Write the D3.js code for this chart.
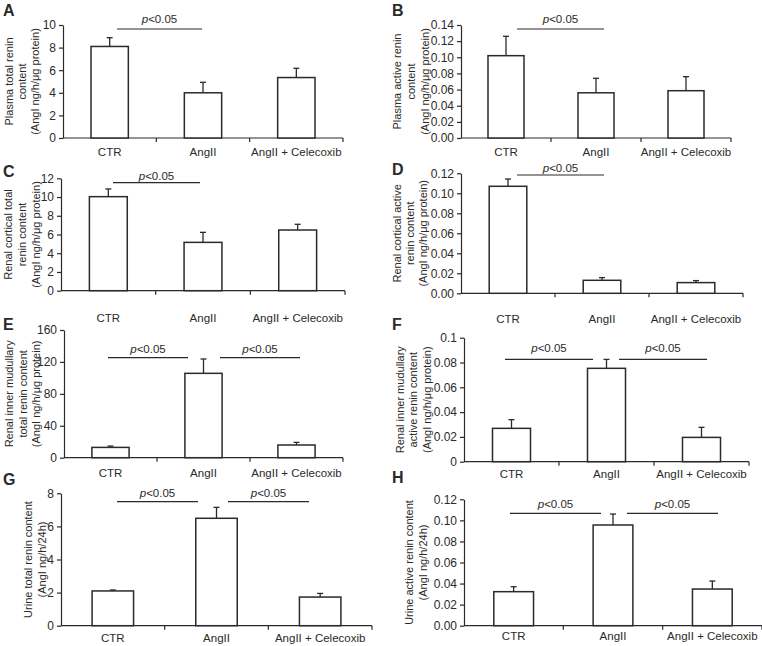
<!DOCTYPE html>
<html>
<head>
<meta charset="utf-8">
<script src="https://cdn.jsdelivr.net/npm/d3@7"></script>
<style>
  html, body { margin: 0; padding: 0; background: #fff; }
  svg { display: block; }
  text { font-family: "Liberation Sans", Arial, sans-serif; fill: #2a2a2a; }
</style>
</head>
<body>
<svg id="chart" width="762" height="646"></svg>
<script>
// ---------------- DATA ----------------
const categories = ["CTR", "AngII", "AngII + Celecoxib"];

// A: plasma total renin content
const plasmaTotalMean = [8.1, 4.0, 5.35];
const plasmaTotalSem  = [0.78, 0.93, 0.82];
const plasmaTotalTicks = [0, 2, 4, 6, 8, 10];

// B: plasma active renin content
const plasmaActiveMean = [0.102, 0.056, 0.0586];
const plasmaActiveSem  = [0.024, 0.018, 0.0174];
const plasmaActiveTicks = [0, 0.02, 0.04, 0.06, 0.08, 0.10, 0.12, 0.14];

// C: renal cortical total renin content
const corticalTotalMean = [10.04, 5.16, 6.48];
const corticalTotalSem  = [0.82, 1.07, 0.61];
const corticalTotalTicks = [0, 2, 4, 6, 8, 10, 12];

// D: renal cortical active renin content
const corticalActiveMean = [0.107, 0.013, 0.0107];
const corticalActiveSem  = [0.0073, 0.0027, 0.002];
const corticalActiveTicks = [0, 0.02, 0.04, 0.06, 0.08, 0.10, 0.12];

// E: renal inner medullary total renin content
const medullaryTotalMean = [12.9, 105.7, 15.9];
const medullaryTotalSem  = [1.7, 18.0, 3.3];
const medullaryTotalTicks = [0, 40, 80, 120, 160];

// F: renal inner medullary active renin content
const medullaryActiveMean = [0.0269, 0.0753, 0.0196];
const medullaryActiveSem  = [0.007, 0.0072, 0.0081];
const medullaryActiveTicks = [0, 0.02, 0.04, 0.06, 0.08, 0.1];

// G: urine total renin content
const urineTotalMean = [2.10, 6.49, 1.73];
const urineTotalSem  = [0.06, 0.66, 0.22];
const urineTotalTicks = [0, 2, 4, 6, 8];

// H: urine active renin content
const urineActiveMean = [0.0323, 0.0956, 0.0348];
const urineActiveSem  = [0.0047, 0.0104, 0.0076];
const urineActiveTicks = [0, 0.02, 0.04, 0.06, 0.08, 0.10, 0.12];

const sigText = "<0.05";

// ---------------- LAYOUT ----------------
const f2 = d3.format(".2f");
const fInt = d3.format("d");
const fShort = v => (v === 0 ? "0" : d3.format("~g")(v));

const panels = [
  { letter: "A", mean: plasmaTotalMean, sem: plasmaTotalSem, ticks: plasmaTotalTicks, fmt: fInt,
    label: ["Plasma total renin", "content", "(AngI ng/h/\u03bcg protein)"],
    x0: 63, x1: 343, yTop: 25, yBot: 138, letterX: 3, letterY: 16, labX: [9, 22, 35], catY: 155.5,
    sig: [{ a: 117, b: 202, y: 29, ty: 22.5 }] },
  { letter: "B", mean: plasmaActiveMean, sem: plasmaActiveSem, ticks: plasmaActiveTicks, fmt: f2,
    label: ["Plasma active renin", "content", "(AngI ng/h/\u03bcg protein)"],
    x0: 461, x1: 731, yTop: 25, yBot: 138, letterX: 392, letterY: 16, labX: [397, 411, 425], catY: 155.5,
    sig: [{ a: 517, b: 604, y: 29, ty: 22.5 }] },
  { letter: "C", mean: corticalTotalMean, sem: corticalTotalSem, ticks: corticalTotalTicks, fmt: fInt,
    label: ["Renal  cortical total", "renin content", "(AngI ng/h/\u03bcg protein)"],
    x0: 61, x1: 345, yTop: 178.3, yBot: 290.7, letterX: 3, letterY: 177, labX: [8, 22, 36], catY: 321.7,
    sig: [{ a: 113, b: 200, y: 182.7, ty: 180 }] },
  { letter: "D", mean: corticalActiveMean, sem: corticalActiveSem, ticks: corticalActiveTicks, fmt: f2,
    label: ["Renal  cortical active", "renin content", "(AngI ng/h/\u03bcg protein)"],
    x0: 461, x1: 743, yTop: 173.3, yBot: 293.3, letterX: 392, letterY: 175, labX: [397, 410, 423], catY: 323.3,
    sig: [{ a: 517, b: 604, y: 175, ty: 171.5 }] },
  { letter: "E", mean: medullaryTotalMean, sem: medullaryTotalSem, ticks: medullaryTotalTicks, fmt: fInt,
    label: ["Renal inner mudullary", "total renin content", "(AngI ng/h/\u03bcg protein)"],
    x0: 64, x1: 343, yTop: 330, yBot: 457.7, letterX: 3, letterY: 330, labX: [9, 23, 36], catY: 476.7,
    sig: [{ a: 108, b: 188, y: 357.7, ty: 353 }, { a: 220, b: 300, y: 357.7, ty: 353 }] },
  { letter: "F", mean: medullaryActiveMean, sem: medullaryActiveSem, ticks: medullaryActiveTicks, fmt: fShort,
    label: ["Renal inner mudullary", "active renin content", "(AngI ng/h/\u03bcg protein)"],
    x0: 464, x1: 749, yTop: 337.7, yBot: 461.7, letterX: 392, letterY: 330, labX: [400, 413, 427], catY: 478,
    sig: [{ a: 505, b: 593, y: 359.3, ty: 352 }, { a: 619, b: 707, y: 359.3, ty: 352 }] },
  { letter: "G", mean: urineTotalMean, sem: urineTotalSem, ticks: urineTotalTicks, fmt: fInt,
    label: ["Urine total renin content", "(AngI ng/h/24h)"],
    x0: 61, x1: 372, yTop: 493.3, yBot: 625.7, letterX: 3, letterY: 485, labX: [28, 42], catY: 641.7,
    sig: [{ a: 117, b: 198, y: 501.7, ty: 496.5 }, { a: 228, b: 309, y: 501.7, ty: 496.5 }] },
  { letter: "H", mean: urineActiveMean, sem: urineActiveSem, ticks: urineActiveTicks, fmt: f2,
    label: ["Urine active renin content", "(AngI ng/h/24h)"],
    x0: 464, x1: 762, yTop: 499.3, yBot: 625.7, letterX: 392, letterY: 483, labX: [409, 423], catY: 640,
    sig: [{ a: 510, b: 601, y: 513.3, ty: 507.5 }, { a: 627, b: 718, y: 513.3, ty: 507.5 }] }
];

const svg = d3.select("#chart");
const ink = "#2a2a2a";

panels.forEach(p => {
  const g = svg.append("g");
  const x = d3.scaleBand().domain(categories).range([p.x0, p.x1]).padding(0);
  const y = d3.scaleLinear().domain([0, d3.max(p.ticks)]).range([p.yBot, p.yTop]);

  // y axis
  const ya = g.append("g")
    .attr("transform", `translate(${p.x0},0)`)
    .call(d3.axisLeft(y).tickValues(p.ticks).tickFormat(p.fmt).tickSize(4).tickSizeOuter(0).tickPadding(3));
  ya.select(".domain").attr("stroke", ink).attr("stroke-width", 1.2);
  ya.selectAll(".tick line").attr("stroke", ink).attr("stroke-width", 1.2);
  ya.selectAll(".tick text").attr("font-size", 12).attr("font-family", "Liberation Sans, Arial, sans-serif").attr("fill", ink);

  // x axis line
  g.append("line")
    .attr("x1", p.x0).attr("x2", p.x1).attr("y1", p.yBot).attr("y2", p.yBot)
    .attr("stroke", ink).attr("stroke-width", 1.2);
  const bounds = categories.map(c => x(c)).concat([x.range()[1]]).slice(1);
  g.selectAll(".xt").data(bounds).join("line")
    .attr("x1", d => d).attr("x2", d => d).attr("y1", p.yBot).attr("y2", p.yBot + 4)
    .attr("stroke", ink).attr("stroke-width", 1.2);

  // category labels
  g.selectAll(".cat").data(categories).join("text")
    .attr("x", c => x(c) + x.bandwidth() / 2)
    .attr("y", p.catY)
    .attr("text-anchor", "middle")
    .attr("font-size", 11.5)
    .text(c => c);

  const bw = x.bandwidth() * 0.4;
  const rows = categories.map((c, i) => ({ c, m: p.mean[i], s: p.sem[i] }));

  // error bars
  g.selectAll(".err").data(rows).join("line")
    .attr("x1", d => x(d.c) + x.bandwidth() / 2).attr("x2", d => x(d.c) + x.bandwidth() / 2)
    .attr("y1", d => y(d.m)).attr("y2", d => y(d.m + d.s))
    .attr("stroke", ink).attr("stroke-width", 1.3);
  g.selectAll(".cap").data(rows).join("line")
    .attr("x1", d => x(d.c) + x.bandwidth() / 2 - 3).attr("x2", d => x(d.c) + x.bandwidth() / 2 + 3)
    .attr("y1", d => y(d.m + d.s)).attr("y2", d => y(d.m + d.s))
    .attr("stroke", ink).attr("stroke-width", 1.3);

  // bars
  g.selectAll(".bar").data(rows).join("rect")
    .attr("x", d => x(d.c) + (x.bandwidth() - bw) / 2)
    .attr("y", d => y(d.m))
    .attr("width", bw)
    .attr("height", d => p.yBot - y(d.m))
    .attr("fill", "#fff")
    .attr("stroke", ink).attr("stroke-width", 1.5);

  // significance annotations
  p.sig.forEach(s => {
    g.append("line").attr("x1", s.a).attr("x2", s.b).attr("y1", s.y).attr("y2", s.y)
      .attr("stroke", ink).attr("stroke-width", 1.2);
    const t = g.append("text").attr("x", (s.a + s.b) / 2).attr("y", s.ty)
      .attr("text-anchor", "middle").attr("font-size", 11.5);
    t.append("tspan").attr("font-style", "italic").text("p");
    t.append("tspan").text(sigText);
  });

  // y label
  const lx = p.labX;
  const cy = (p.yTop + p.yBot) / 2;
  p.label.forEach((line, i) => {
    g.append("text")
      .attr("transform", `translate(${lx[i]},${cy}) rotate(-90)`)
      .attr("text-anchor", "middle")
      .attr("dominant-baseline", "central")
      .attr("font-size", 11)
      .text(line);
  });

  // panel letter
  g.append("text").attr("x", p.letterX).attr("y", p.letterY)
    .attr("font-size", 16).attr("font-weight", "bold").attr("fill", "#111")
    .text(p.letter);
});
</script>
</body>
</html>
